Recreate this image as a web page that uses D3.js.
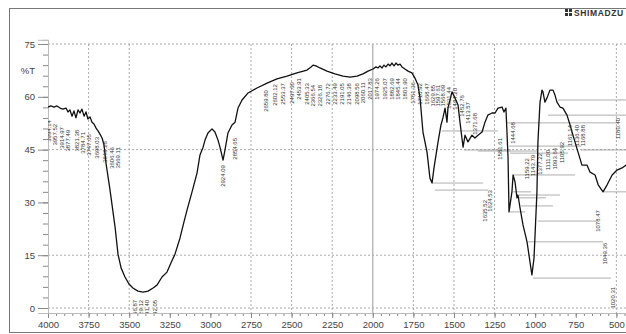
<!DOCTYPE html>
<html>
<head>
<meta charset="utf-8">
<script src="https://cdn.jsdelivr.net/npm/d3@7"></script>
<style>
  body { margin: 0; background: #fff; }
  svg { display: block; }
</style>
</head>
<body>
<svg id="chart" width="626" height="334"></svg>
<script>
// spectrum (wavenumber cm-1 / %T)
const wavenumber = [4000, 3982, 3963, 3945, 3926, 3908, 3889, 3877, 3865, 3852, 3840, 3828, 3815, 3803, 3791, 3778, 3766, 3754, 3741, 3729, 3717, 3704, 3692, 3680, 3667, 3655, 3643, 3618, 3587, 3569, 3550, 3526, 3501, 3477, 3446, 3415, 3384, 3353, 3329, 3298, 3267, 3243, 3218, 3187, 3163, 3144, 3113, 3082, 3064, 3045, 3033, 3015, 2990, 2972, 2953, 2941, 2922, 2910, 2892, 2867, 2848, 2830, 2805, 2768, 2713, 2651, 2590, 2528, 2467, 2405, 2380, 2368, 2350, 2325, 2282, 2233, 2183, 2140, 2097, 2060, 2029, 1999, 1980, 1968, 1956, 1943, 1931, 1919, 1906, 1894, 1882, 1869, 1857, 1845, 1832, 1820, 1802, 1783, 1759, 1740, 1722, 1709, 1691, 1666, 1648, 1635, 1623, 1598, 1580, 1568, 1555, 1543, 1537, 1512, 1494, 1475, 1463, 1451, 1444, 1432, 1414, 1389, 1371, 1352, 1327, 1309, 1291, 1266, 1247, 1229, 1204, 1192, 1180, 1167, 1161, 1143, 1136, 1124, 1112, 1106, 1093, 1075, 1050, 1032, 1020, 1007, 989, 983, 970, 958, 952, 940, 927, 909, 890, 878, 866, 847, 829, 804, 785, 773, 755, 736, 712, 681, 662, 631, 612, 582, 557, 526, 496, 465, 440];
const transmittance = [57.1, 57.4, 57.1, 57.4, 56.8, 56.5, 56.8, 55.7, 56.3, 54.5, 56.0, 54.0, 56.3, 55.4, 56.5, 54.5, 55.7, 53.7, 54.3, 52.8, 52.3, 51.1, 50.3, 49.4, 48.3, 46.3, 41.2, 33.5, 23.0, 15.3, 11.4, 8.8, 6.8, 5.7, 4.8, 4.5, 4.8, 5.7, 6.5, 8.8, 10.2, 12.8, 15.3, 19.9, 24.4, 27.8, 33.0, 38.4, 43.5, 45.7, 47.7, 49.7, 50.9, 50.0, 47.7, 45.7, 42.0, 44.9, 49.7, 52.0, 52.8, 56.8, 59.1, 61.1, 62.5, 63.9, 65.1, 65.9, 66.8, 67.6, 68.5, 69.0, 68.8, 68.2, 67.3, 66.5, 65.9, 65.6, 65.9, 66.5, 67.3, 67.9, 68.5, 68.2, 68.8, 68.2, 69.0, 68.5, 69.3, 68.8, 69.6, 68.8, 69.6, 69.0, 69.3, 68.5, 67.9, 67.3, 66.8, 65.3, 63.4, 59.7, 50.0, 44.3, 36.9, 35.5, 39.8, 47.2, 52.0, 54.0, 56.8, 52.8, 56.8, 61.4, 59.7, 57.7, 52.8, 48.3, 45.7, 49.1, 47.2, 49.1, 48.3, 49.1, 50.0, 52.8, 54.8, 55.4, 55.4, 56.8, 57.1, 55.7, 56.8, 42.6, 27.3, 33.0, 37.8, 35.8, 31.3, 32.1, 28.4, 23.6, 18.8, 13.1, 9.4, 14.2, 33.0, 47.2, 58.5, 61.9, 61.4, 58.5, 59.7, 61.9, 61.9, 60.5, 58.5, 57.1, 56.8, 54.8, 52.0, 50.0, 47.2, 44.3, 40.6, 40.6, 38.6, 37.8, 35.0, 33.0, 35.0, 37.8, 39.2, 39.8, 40.6];

// peak tags hanging just under the trace
const tagWn = [3994, 3957, 3914, 3877, 3821, 3784, 3747, 3698, 3649, 3606, 3569, 3464, 3427, 3390, 3341, 2922, 2848, 2658, 2602, 2553, 2497, 2454, 2405, 2368, 2325, 2276, 2233, 2190, 2146, 2097, 2060, 2017, 1974, 1925, 1882, 1845, 1802, 1752, 1709, 1666, 1629, 1598, 1568, 1531, 1494, 1451, 1414, 1371];
const tagT = [53.4, 52.3, 51.4, 50.6, 50.6, 50.0, 49.4, 48.6, 47.4, 45.7, 45.7, 2.3, 2.3, 2.3, 2.3, 40.6, 48.3, 61.9, 63.6, 63.9, 64.2, 65.3, 63.9, 63.4, 63.4, 63.9, 63.9, 63.9, 63.9, 63.9, 64.2, 65.3, 65.3, 65.3, 65.3, 65.3, 65.3, 64.2, 63.9, 63.9, 63.4, 63.4, 63.4, 62.8, 62.5, 60.5, 58.5, 55.4];
const tagText = ["3994.14", "3957.52", "3914.97", "3877.49", "3821.38", "3784.71", "3747.65", "3698.03", "3649.28", "3606.46", "3569.11", "3466.87", "3429.12", "3391.40", "3342.05", "2924.09", "2854.65", "2659.80", "2602.12", "2553.37", "2497.60", "2453.91", "2405.33", "2366.54", "2326.18", "2276.72", "2233.49", "2191.05", "2146.38", "2098.56", "2060.11", "2017.83", "1974.26", "1925.07", "1882.69", "1845.44", "1801.90", "1751.36", "1710.92", "1668.47", "1629.85", "1597.61", "1568.09", "1531.44", "1494.20", "1452.76", "1413.57", "1371.68"];

// peaks with a leader line out to the label
const leadWn = [1635, 1580, 1444, 1358, 1167, 1161, 1180, 1161, 1143, 1112, 1093, 989, 1050, 1020, 1623, 1106, 1136];
const leadT = [35.5, 50.3, 44.9, 44.6, 46.0, 44.0, 52.6, 27.3, 33.0, 31.3, 29.0, 24.7, 18.8, 8.5, 33.5, 32.1, 37.8];
const leadToWn = [1309, 1217, 1137, 970, 705, 785, 490, 1050, 1013, 921, 878, 613, 570, 521, 1278, 835, 742];
const leadTagT = [30.7, 48.3, 52.8, 44.0, 52.0, 52.0, 54.0, 42.6, 43.5, 44.9, 45.5, 27.8, 18.5, 6.0, 33.5, 47.2, 52.0];
const leadText = ["1635.52", "1581.61", "1444.68", "1377.22", "1168.88", "1161.14", "1180.40", "1159.22", "1143.79", "1111.00", "1093.64", "1078.47", "1049.36", "1020.31", "1624.53", "1105.92", "1136.40"];

// leaders whose labels fall past the right edge of the page
const edgeLeadWn = [582, 724, 866, 927];
const edgeLeadT = [33.0, 44.9, 59.1, 54.8];

const xTicks = [4000, 3750, 3500, 3250, 3000, 2750, 2500, 2250, 2000, 1750, 1500, 1250, 1000, 750, 500];
const yTicks = [0, 15, 30, 45, 60, 75];
const gridX = [3750, 3500, 2750, 2500, 2250, 1750, 1500, 1250, 500];
const gridY = [0, 15, 45, 75];
const splitX = 2000;

const svg = d3.select('#chart');
const x = d3.scaleLinear().domain([4000, 400]).range([48, 632.6]);
const y = d3.scaleLinear().domain([-1.42, 76.2]).range([313, 39.8]);
const font = 'Liberation Sans, Arial, sans-serif';

// outer frame
svg.append('rect')
  .attr('x', 9.5).attr('y', 8.5).attr('width', 700).attr('height', 324)
  .attr('fill', 'none').attr('stroke', '#777').attr('stroke-width', 1);

// logo
const logo = svg.append('g').attr('transform', 'translate(565,9)');
logo.append('rect').attr('width', 7).attr('height', 7).attr('fill', '#333');
logo.append('path').attr('d', 'M3.5,0V7M0,3.5H7').attr('stroke', '#fff').attr('stroke-width', 1);
logo.append('text').attr('x', 9).attr('y', 7)
  .attr('font-family', font).attr('font-size', 8.5).attr('font-weight', 'bold')
  .attr('letter-spacing', 0.6).attr('fill', '#333').text('SHIMADZU');

// grid
const grid = svg.append('g');
grid.selectAll('.gy').data(gridY).join('line')
  .attr('x1', x(4000)).attr('x2', 626)
  .attr('y1', d => y(d)).attr('y2', d => y(d))
  .attr('stroke', '#aaa').attr('stroke-dasharray', '2,2');
grid.selectAll('.gx').data(gridX).join('line')
  .attr('x1', d => x(d)).attr('x2', d => x(d))
  .attr('y1', y(75)).attr('y2', y(-1.42))
  .attr('stroke', '#aaa').attr('stroke-dasharray', '2,2');
grid.append('line')
  .attr('x1', x(splitX)).attr('x2', x(splitX))
  .attr('y1', y(75)).attr('y2', y(-1.42))
  .attr('stroke', '#aaa').attr('stroke-width', 1.2);

// axes
const xMinor = svg.append('g').attr('transform', 'translate(0,' + y(-1.42) + ')')
  .call(d3.axisBottom(x).tickValues(d3.range(4000, 399, -50)).tickSize(3).tickFormat(''));
const xAxis = svg.append('g').attr('transform', 'translate(0,' + y(-1.42) + ')')
  .call(d3.axisBottom(x).tickValues(xTicks).tickSize(5).tickPadding(3).tickFormat(d3.format('d')));
const yMinor = svg.append('g').attr('transform', 'translate(' + x(4000) + ',0)')
  .call(d3.axisLeft(y).tickValues(d3.range(0, 76, 3)).tickSize(5).tickFormat(''));
const yAxis = svg.append('g').attr('transform', 'translate(' + x(4000) + ',0)')
  .call(d3.axisLeft(y).tickValues(yTicks).tickSize(10).tickPadding(3));
[xMinor, xAxis, yMinor, yAxis].forEach(g => {
  g.selectAll('path').attr('stroke', '#bbb');
  g.selectAll('line').attr('stroke', '#888');
  g.selectAll('text').attr('font-family', font).attr('font-size', 9.5).attr('fill', '#444');
});

svg.append('text')
  .attr('x', 35).attr('y', y(66.6))
  .attr('text-anchor', 'end')
  .attr('font-family', font).attr('font-size', 9.5).attr('fill', '#444')
  .text('%T');

// plot area clip
svg.append('clipPath').attr('id', 'plotclip')
  .append('rect').attr('x', x(4000)).attr('y', 30).attr('width', 600).attr('height', y(-1.42) - 30);
const plot = svg.append('g').attr('clip-path', 'url(#plotclip)');

// leader lines
const leads = d3.range(leadWn.length);
plot.selectAll('.lead').data(leads).join('line')
  .attr('x1', i => x(leadWn[i]) + 1).attr('x2', i => x(leadToWn[i]) - 2)
  .attr('y1', i => y(leadT[i])).attr('y2', i => y(leadT[i]))
  .attr('stroke', '#999').attr('stroke-width', 0.8);
plot.selectAll('.edgelead').data(d3.range(edgeLeadWn.length)).join('line')
  .attr('x1', i => x(edgeLeadWn[i]) + 1).attr('x2', x.range()[1])
  .attr('y1', i => y(edgeLeadT[i])).attr('y2', i => y(edgeLeadT[i]))
  .attr('stroke', '#999').attr('stroke-width', 0.8);

// spectrum
const pts = wavenumber.map((w, i) => [w, transmittance[i]]);
plot.append('path')
  .datum(pts)
  .attr('d', d3.line().x(d => x(d[0])).y(d => y(d[1])))
  .attr('fill', 'none').attr('stroke', '#111').attr('stroke-width', 1.3)
  .attr('stroke-linejoin', 'round');

// peak labels
const tags = d3.range(tagWn.length);
plot.selectAll('.tag').data(tags).join('text')
  .attr('transform', i => 'translate(' + x(tagWn[i]) + ',' + y(tagT[i]) + ') rotate(-90)')
  .attr('text-anchor', 'end').attr('dy', '0.35em')
  .attr('font-family', font).attr('font-size', 6).attr('fill', '#333')
  .text(i => tagText[i]);
plot.selectAll('.leadtag').data(leads).join('text')
  .attr('transform', i => 'translate(' + x(leadToWn[i]) + ',' + y(leadTagT[i]) + ') rotate(-90)')
  .attr('text-anchor', 'end').attr('dy', '0.35em')
  .attr('font-family', font).attr('font-size', 6).attr('fill', '#333')
  .text(i => leadText[i]);
</script>
</body>
</html>
